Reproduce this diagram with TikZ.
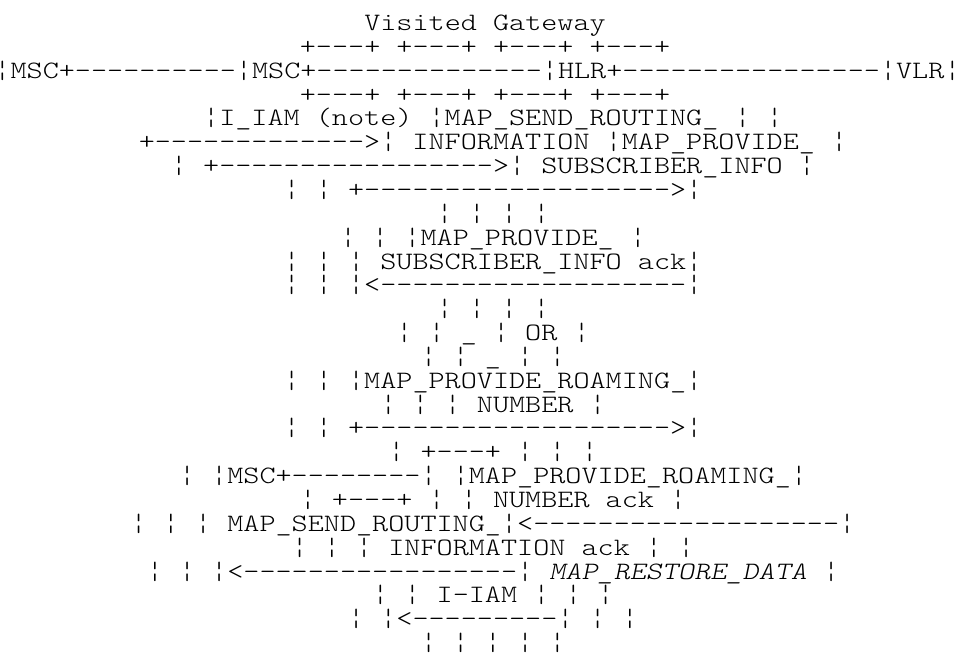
\documentclass[tikz,border=0pt]{standalone}
\usepackage{fontspec}
\setmonofont{lmmonolt10-regular.otf}[FakeStretch=1.2267, ItalicFont=lmmonolt10-oblique.otf, ItalicFeatures={FakeStretch=1.2267}]
\begin{document}
\begin{tikzpicture}[x=1pt,y=1pt,
  asc/.style={anchor=base, inner sep=0pt, outer sep=0pt, font=\fontsize{25}{25}\selectfont\ttfamily}]
\useasboundingbox (0,0) rectangle (956,-655);
\def\cx{493}
\node[asc] (l1)  at (485,{-30.5}) {Visited Gateway};
\node[asc] (l2)  at (485,{-(30.5+1*23.85)}) {+---+ +---+ +---+ +---+};
\node[asc] (l3)  at (477.5,{-(30.5+2*23.85)}) {¦MSC+----------¦MSC+--------------¦HLR+----------------¦VLR¦};
\node[asc] (l4)  at (485,{-(30.5+3*23.85)}) {+---+ +---+ +---+ +---+};
\node[asc] (l5)  at (\cx,{-(30.5+4*23.85)}) {¦I\_IAM (note) ¦MAP\_SEND\_ROUTING\_ ¦ ¦};
\node[asc] (l6)  at (\cx,{-(30.5+5*23.85)}) {+------------->¦ INFORMATION ¦MAP\_PROVIDE\_ ¦};
\node[asc] (l7)  at (\cx,{-(30.5+6*23.85)}) {¦ +----------------->¦ SUBSCRIBER\_INFO ¦};
\node[asc] (l8)  at (\cx,{-(30.5+7*23.85)}) {¦ ¦ +------------------->¦};
\node[asc] (l9)  at (\cx,{-(30.5+8*23.85)}) {¦ ¦ ¦ ¦};
\node[asc] (l10) at (\cx,{-(30.5+9*23.85)}) {¦ ¦ ¦MAP\_PROVIDE\_ ¦};
\node[asc] (l11) at (\cx,{-(30.5+10*23.85)}) {¦ ¦ ¦ SUBSCRIBER\_INFO ack¦};
\node[asc] (l12) at (\cx,{-(30.5+11*23.85)}) {¦ ¦ ¦<-------------------¦};
\node[asc] (l13) at (\cx,{-(30.5+12*23.85)}) {¦ ¦ ¦ ¦};
\node[asc] (l14) at (\cx,{-(30.5+13*23.85)}) {¦ ¦ \_ ¦ OR ¦};
\node[asc] (l15) at (\cx,{-(30.5+14*23.85)}) {¦ ¦ \_ ¦ ¦};
\node[asc] (l16) at (\cx,{-(30.5+15*23.85)}) {¦ ¦ ¦MAP\_PROVIDE\_ROAMING\_¦};
\node[asc] (l17) at (\cx,{-(30.5+16*23.85)}) {¦ ¦ ¦ NUMBER ¦};
\node[asc] (l18) at (\cx,{-(30.5+17*23.85)}) {¦ ¦ +------------------->¦};
\node[asc] (l19) at (\cx,{-(30.5+18*23.85)}) {¦ +---+ ¦ ¦ ¦};
\node[asc] (l20) at (\cx,{-(30.5+19*23.85)}) {¦ ¦MSC+--------¦ ¦MAP\_PROVIDE\_ROAMING\_¦};
\node[asc] (l21) at (\cx,{-(30.5+20*23.85)}) {¦ +---+ ¦ ¦ NUMBER ack ¦};
\node[asc] (l22) at (\cx,{-(30.5+21*23.85)}) {¦ ¦ ¦ MAP\_SEND\_ROUTING\_¦<-------------------¦};
\node[asc] (l23) at (\cx,{-(30.5+22*23.85)}) {¦ ¦ ¦ INFORMATION ack ¦ ¦};
\node[asc] (l24) at (\cx,{-(30.5+23*23.85)}) {¦ ¦ ¦<-----------------¦ {\itshape MAP\_RESTORE\_DATA} ¦};
\node[asc] (l25) at (\cx,{-(30.5+24*23.85)}) {¦ ¦ I-IAM ¦ ¦ ¦};
\node[asc] (l26) at (\cx,{-(30.5+25*23.85)}) {¦ ¦<---------¦ ¦ ¦};
\node[asc] (l27) at (\cx,{-(30.5+26*23.85)}) {¦ ¦ ¦ ¦ ¦};
\end{tikzpicture}
\end{document}
